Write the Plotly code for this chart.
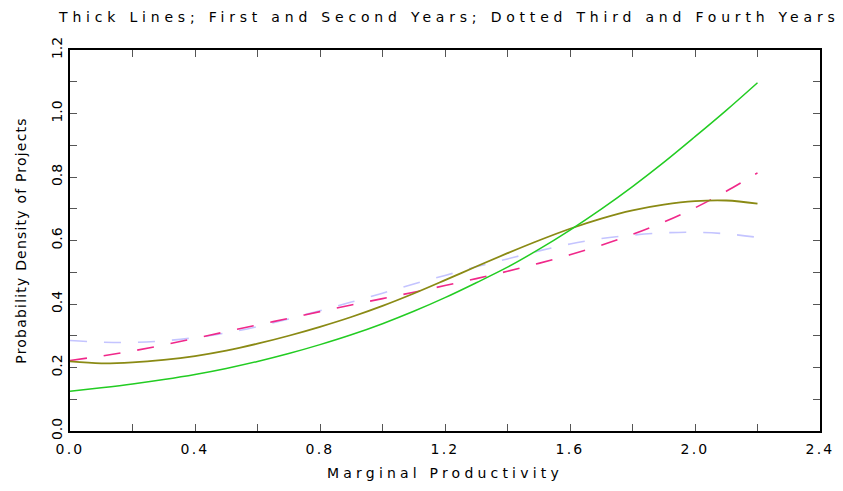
import plotly.graph_objects as go

x_vals = [0.0, 0.1, 0.2, 0.3, 0.4, 0.5, 0.6, 0.7, 0.8, 0.9, 1.0, 1.1,
          1.2, 1.3, 1.4, 1.5, 1.6, 1.7, 1.8, 1.9, 2.0, 2.1, 2.2]

year1_green = [0.125, 0.136, 0.148, 0.162, 0.178, 0.197, 0.219, 0.244, 0.272, 0.303,
               0.338, 0.377, 0.420, 0.467, 0.516, 0.572, 0.633, 0.699, 0.770, 0.846,
               0.927, 1.010, 1.097]
year2_olive = [0.219, 0.213, 0.216, 0.224, 0.236, 0.253, 0.275, 0.300, 0.328, 0.359,
               0.394, 0.433, 0.475, 0.518, 0.560, 0.600, 0.637, 0.669, 0.695, 0.713,
               0.724, 0.726, 0.716]
year3_pink = [0.222, 0.236, 0.252, 0.271, 0.292, 0.313, 0.334, 0.355, 0.376, 0.397,
              0.417, 0.437, 0.458, 0.480, 0.503, 0.528, 0.555, 0.585, 0.619, 0.658,
              0.703, 0.755, 0.813]
year4_lavender = [0.285, 0.280, 0.279, 0.284, 0.294, 0.309, 0.329, 0.353, 0.379, 0.406,
                  0.434, 0.463, 0.490, 0.517, 0.542, 0.567, 0.589, 0.606, 0.617, 0.624,
                  0.626, 0.621, 0.610]

title_text = "Thick Lines; First and Second Years; Dotted Third and Fourth Years"
x_title = "Marginal Productivity"
y_title = "Probability Density of Projects"

font_family = "DejaVu Sans"
text_color = "#000000"
text_weight = 400

fig = go.Figure()
fig.add_trace(go.Scatter(x=x_vals, y=year4_lavender, mode="lines",
                         line=dict(color="#c4c4ff", width=1.6, dash="17px,17px", shape="spline"),
                         showlegend=False))
fig.add_trace(go.Scatter(x=x_vals, y=year3_pink, mode="lines",
                         line=dict(color="#f0288a", width=1.6, dash="17px,17px", shape="spline"),
                         showlegend=False))
fig.add_trace(go.Scatter(x=x_vals, y=year2_olive, mode="lines",
                         line=dict(color="#8a8a14", width=1.8, shape="spline"),
                         showlegend=False))
fig.add_trace(go.Scatter(x=x_vals, y=year1_green, mode="lines",
                         line=dict(color="#22cc22", width=1.5, shape="spline"),
                         showlegend=False))

axis_common = dict(
    showline=True, linecolor="black", linewidth=2, mirror="ticks",
    ticks="inside", ticklen=7, tickcolor="#555", tickwidth=1,
    showgrid=False, zeroline=False,
    tickfont=dict(family=font_family, size=14, color=text_color, weight=text_weight),
)

fig.update_xaxes(range=[0, 2.4], dtick=0.4, tick0=0, tickformat=".1f", ticklabelstandoff=4,
                 minor=dict(dtick=0.2, ticks="inside", ticklen=7, tickcolor="#555", showgrid=False),
                 title=dict(text=x_title, font=dict(family=font_family, size=14, color=text_color,
                                                    weight=text_weight),
                            standoff=12),
                 **axis_common)
fig.update_yaxes(range=[0, 1.2], dtick=0.2, tick0=0, tickformat=".1f", tickangle=-90,
                 minor=dict(dtick=0.1, ticks="inside", ticklen=7, tickcolor="#555", showgrid=False),
                 title=dict(text=y_title, font=dict(family=font_family, size=14, color=text_color,
                                                    weight=text_weight),
                            standoff=20),
                 **axis_common)

fig.update_layout(
    width=843, height=491,
    margin=dict(l=70, r=17, t=50, b=57),
    paper_bgcolor="white", plot_bgcolor="white",
    title=dict(text=title_text, x=0.533, xanchor="center", y=0.966, yanchor="middle",
               font=dict(family=font_family, size=14, color=text_color, weight=text_weight)),
)

post_js = """
var gd = document.getElementById('{plot_id}');
function spaceText(){
  gd.querySelectorAll('.gtitle').forEach(function(e){ e.style.letterSpacing = '4.8px'; });
  gd.querySelectorAll('.xtitle').forEach(function(e){ e.style.letterSpacing = '4.2px'; });
  gd.querySelectorAll('.ytitle').forEach(function(e){ e.style.letterSpacing = '1.2px'; });
  gd.querySelectorAll('.xtick text').forEach(function(e){ e.style.letterSpacing = '2.2px'; });
}
spaceText();
gd.on('plotly_afterplot', spaceText);
"""

fig.write_html("out.html", post_script=post_js)
